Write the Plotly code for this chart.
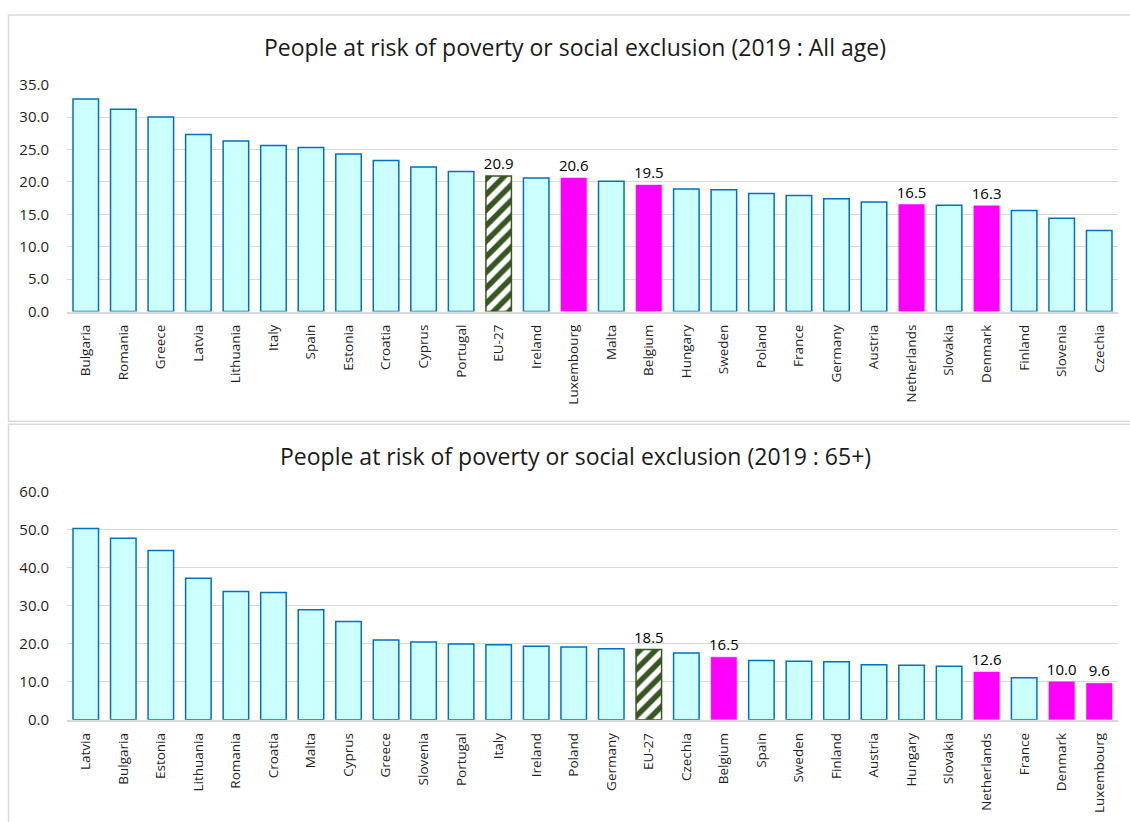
import plotly.graph_objects as go

# --- Data -------------------------------------------------------------
all_age_countries = [
    "Bulgaria", "Romania", "Greece", "Latvia", "Lithuania", "Italy", "Spain",
    "Estonia", "Croatia", "Cyprus", "Portugal", "EU-27", "Ireland", "Luxembourg",
    "Malta", "Belgium", "Hungary", "Sweden", "Poland", "France", "Germany",
    "Austria", "Netherlands", "Slovakia", "Denmark", "Finland", "Slovenia", "Czechia",
]
all_age_values = [
    32.8, 31.2, 30.0, 27.3, 26.3, 25.6, 25.3,
    24.3, 23.3, 22.3, 21.6, 20.9, 20.6, 20.6,
    20.1, 19.5, 18.9, 18.8, 18.2, 17.9, 17.4,
    16.9, 16.5, 16.4, 16.3, 15.6, 14.4, 12.5,
]

senior_countries = [
    "Latvia", "Bulgaria", "Estonia", "Lithuania", "Romania", "Croatia", "Malta",
    "Cyprus", "Greece", "Slovenia", "Portugal", "Italy", "Ireland", "Poland",
    "Germany", "EU-27", "Czechia", "Belgium", "Spain", "Sweden", "Finland",
    "Austria", "Hungary", "Slovakia", "Netherlands", "France", "Denmark", "Luxembourg",
]
senior_values = [
    50.4, 47.8, 44.6, 37.3, 33.8, 33.5, 29.0,
    25.9, 21.0, 20.5, 20.0, 19.8, 19.4, 19.2,
    18.7, 18.5, 17.6, 16.5, 15.6, 15.4, 15.3,
    14.5, 14.4, 14.1, 12.6, 11.1, 10.0, 9.6,
]

highlighted = ["Belgium", "Luxembourg", "Netherlands", "Denmark"]
eu_label = "EU-27"

titles = [
    "People at risk of poverty or social exclusion (2019 : All age)",
    "People at risk of poverty or social exclusion (2019 : 65+)",
]

# --- Styling ----------------------------------------------------------
W, H = 1130, 822
CYAN = "#CCFFFF"
BLUE = "#0070C0"
MAGENTA = "#FF00FF"
GREEN = "#375623"
GRID = "#D9D9D9"
TEXT = "#1f1f1f"
FAMILY = "Open Sans, Segoe UI, DejaVu Sans, sans-serif"
XTICK_FONT = dict(family=FAMILY, size=13.5, color=TEXT)
YTICK_FONT = dict(family=FAMILY, size=15, color=TEXT)
TITLE_FONT = dict(family="Open Sans, sans-serif", size=23, color="#1a1a1a")
LABEL_FONT = dict(family=FAMILY, size=15, color="#000000")
BAR_WIDTH = 0.68

# vertical layout rows (pixels from the top of the figure)
ROW = dict(
    top_box=4, top_title=36.5, top_plot_top=75.5, top_plot_bottom=308,
    top_box_bottom=420.5, bottom_box_top=423.5, bottom_title=456,
    bottom_plot_top=493, bottom_plot_bottom=726.5,
)


def py(y_px):
    """Pixel row (from top) to paper coordinate."""
    return 1 - y_px / H


def px(x_px):
    return x_px / W


def chart_traces(countries, values, xaxis, yaxis):
    """Three overlaid bar groups: plain countries, highlighted countries, EU average."""
    groups = {"plain": ([], []), "hl": ([], []), "eu": ([], [])}
    for c, v in zip(countries, values):
        key = "eu" if c == eu_label else ("hl" if c in highlighted else "plain")
        groups[key][0].append(c)
        groups[key][1].append(v)

    common = dict(xaxis=xaxis, yaxis=yaxis, width=BAR_WIDTH, showlegend=False,
                  hoverinfo="x+y", cliponaxis=False)
    label_opts = dict(textposition="outside", textfont=LABEL_FONT, constraintext="none")
    traces = [
        go.Bar(x=groups["plain"][0], y=groups["plain"][1],
               marker=dict(color=CYAN, line=dict(color=BLUE, width=1.5)), **common),
        go.Bar(x=groups["hl"][0], y=groups["hl"][1],
               text=[f"{v:.1f}" for v in groups["hl"][1]], **label_opts,
               marker=dict(color=MAGENTA, line=dict(color=MAGENTA, width=0.5)), **common),
        go.Bar(x=groups["eu"][0], y=groups["eu"][1],
               text=[f"{v:.1f}" for v in groups["eu"][1]], **label_opts,
               marker=dict(color="white", line=dict(color=GREEN, width=1.5),
                           pattern=dict(shape="/", fgcolor=GREEN, bgcolor="white",
                                        size=11, solidity=0.5, fillmode="replace")),
               **common),
    ]
    return traces


fig = go.Figure()
for t in chart_traces(all_age_countries, all_age_values, "x", "y"):
    fig.add_trace(t)
for t in chart_traces(senior_countries, senior_values, "x2", "y2"):
    fig.add_trace(t)

x_dom = [px(67), px(1118)]
xaxis_common = dict(
    type="category",
    tickangle=-90,
    tickfont=XTICK_FONT,
    showgrid=False,
    showline=True,
    linecolor=GRID,
    linewidth=1.5,
    ticks="outside",
    ticklen=6,
    tickcolor="rgba(0,0,0,0)",
    fixedrange=True,
    domain=x_dom,
)
yaxis_common = dict(
    tickformat=".1f",
    tickfont=YTICK_FONT,
    showgrid=True,
    gridcolor=GRID,
    gridwidth=1.2,
    zeroline=False,
    showline=False,
    ticks="outside",
    ticklen=14,
    tickcolor="rgba(0,0,0,0)",
    fixedrange=True,
)

fig.update_layout(
    width=W,
    height=H,
    margin=dict(l=0, r=0, t=0, b=0),
    paper_bgcolor="white",
    plot_bgcolor="white",
    barmode="overlay",
    xaxis=dict(**xaxis_common, anchor="y", categoryorder="array", categoryarray=all_age_countries),
    yaxis=dict(**yaxis_common, domain=[py(ROW["top_plot_bottom"]), py(ROW["top_plot_top"])],
               range=[0, 35], dtick=5, anchor="x"),
    xaxis2=dict(**xaxis_common, anchor="y2", categoryorder="array", categoryarray=senior_countries),
    yaxis2=dict(**yaxis_common, domain=[py(ROW["bottom_plot_bottom"]), py(ROW["bottom_plot_top"])],
                range=[0, 60], dtick=10, anchor="x2"),
    shapes=[
        dict(type="rect", xref="paper", yref="paper",
             x0=px(8.5), x1=1.01, y0=py(ROW["top_box_bottom"]), y1=py(ROW["top_box"]),
             line=dict(color=GRID, width=1.5), fillcolor="rgba(0,0,0,0)", layer="below"),
        dict(type="rect", xref="paper", yref="paper",
             x0=px(8.5), x1=1.01, y0=-0.02, y1=py(ROW["bottom_box_top"]),
             line=dict(color=GRID, width=1.5), fillcolor="rgba(0,0,0,0)", layer="below"),
    ],
    annotations=[
        dict(text=titles[0], xref="paper", yref="paper", x=px(575), y=py(ROW["top_title"]),
             showarrow=False, font=TITLE_FONT, xanchor="center", yanchor="middle"),
        dict(text=titles[1], xref="paper", yref="paper", x=px(575), y=py(ROW["bottom_title"]),
             showarrow=False, font=TITLE_FONT, xanchor="center", yanchor="middle"),
    ],
)

fig.write_html("out.html")
